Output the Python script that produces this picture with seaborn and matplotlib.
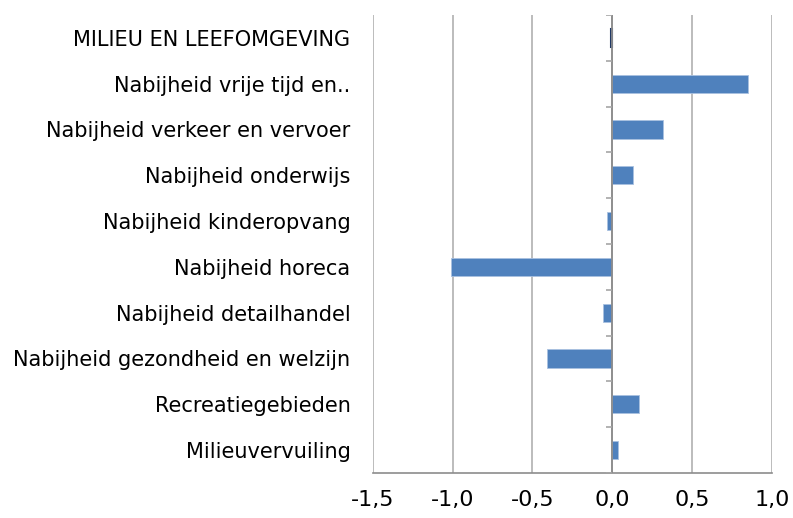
import matplotlib
matplotlib.use("Agg")
import matplotlib.pyplot as plt
import seaborn as sns
import pandas as pd

categories = [
    "MILIEU EN LEEFOMGEVING",
    "Nabijheid vrije tijd en..",
    "Nabijheid verkeer en vervoer",
    "Nabijheid onderwijs",
    "Nabijheid kinderopvang",
    "Nabijheid horeca",
    "Nabijheid detailhandel",
    "Nabijheid gezondheid en welzijn",
    "Recreatiegebieden",
    "Milieuvervuiling",
]
values = [-0.008, 0.85, 0.32, 0.13, -0.03, -1.01, -0.055, -0.41, 0.17, 0.035]
x_ticks = [-1.5, -1.0, -0.5, 0.0, 0.5, 1.0]
x_tick_labels = ["-1,5", "-1,0", "-0,5", "0,0", "0,5", "1,0"]

df = pd.DataFrame({"categorie": categories, "waarde": values})

sns.set_style("white")
plt.rcParams["font.family"] = ["DejaVu Sans"]

fig = plt.figure(figsize=(7.93, 5.18), dpi=100)
ax = fig.add_axes([0.470, 0.087, 0.5035, 0.884])

sns.barplot(data=df, x="waarde", y="categorie", orient="h", color="#4F81BD",
            width=0.4, saturation=1, edgecolor="#a9c1e0", linewidth=0.6, ax=ax)
# the near-zero total bar is drawn dark
ax.patches[0].set_edgecolor("#1F3864")
ax.patches[0].set_linewidth(1.5)

ax.set_xlim(-1.5, 1.0)
ax.set_ylim(len(categories) - 0.5, -0.5)

# gridlines and zero axis
for xv in x_ticks:
    ax.axvline(xv, color="#b0b0b0", lw=1.2, zorder=0)
ax.axvline(0, color="#8c8c8c", lw=1.3, zorder=3)
bounds = [i - 0.5 for i in range(len(categories) + 1)]
ax.hlines(bounds, -0.04, 0, color="#a6a6a6", lw=1.2, zorder=3)

for s in ["top", "right", "left"]:
    ax.spines[s].set_visible(False)
ax.spines["bottom"].set_color("#8c8c8c")
ax.spines["bottom"].set_linewidth(1.2)

ax.set_xticks(x_ticks)
ax.set_xticklabels(x_tick_labels, fontsize=16, color="black")
ax.tick_params(axis="x", direction="out", length=6, color="#8c8c8c", width=1.2, pad=6)
ax.tick_params(axis="y", length=0, pad=16, labelsize=15, labelcolor="black")
ax.set_xlabel("")
ax.set_ylabel("")

fig.savefig("out.png", dpi=100)
